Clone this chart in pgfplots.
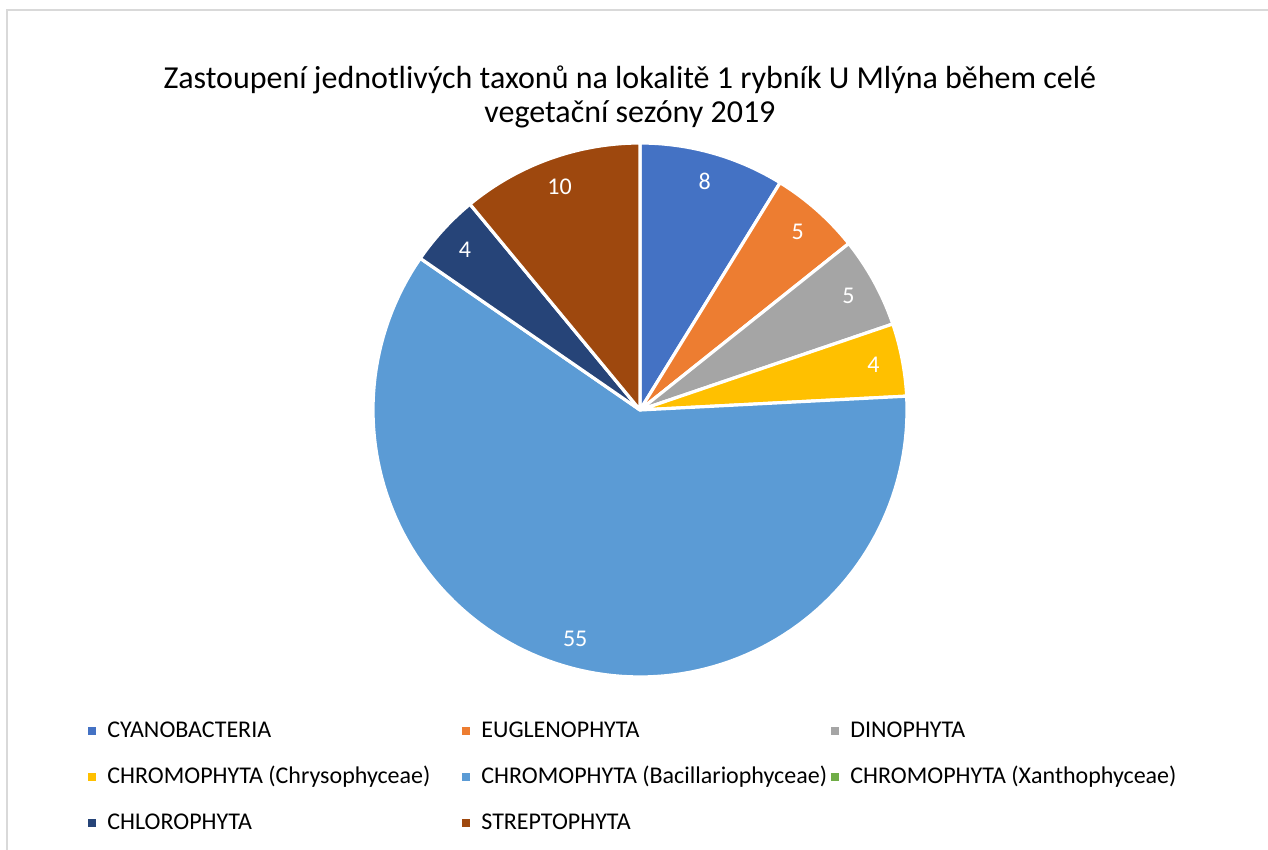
\documentclass[border=0pt]{standalone}
\usepackage{pgfplots}
\pgfplotsset{compat=1.18}
\usepackage{pgfplotstable}
\usepackage{fontspec}
\setmainfont{Carlito}
\definecolor{c0}{HTML}{4472C4}
\definecolor{c1}{HTML}{ED7D31}
\definecolor{c2}{HTML}{A5A5A5}
\definecolor{c3}{HTML}{FFC000}
\definecolor{c4}{HTML}{5B9BD5}
\definecolor{c5}{HTML}{70AD47}
\definecolor{c6}{HTML}{264478}
\definecolor{c7}{HTML}{9E480E}
\definecolor{framecol}{HTML}{D9D9D9}
\pgfplotstableread{
value
8
5
5
4
55
0
4
10
}\pietable
\begin{document}
\begin{tikzpicture}
\def\pietot{0}%
\pgfplotsforeachungrouped \i in {0,...,7}{%
  \pgfplotstablegetelem{\i}{value}\of\pietable
  \pgfmathsetmacro\pietot{\pietot+\pgfplotsretval}}%
\def\piecum{0}%
\pgfplotsforeachungrouped \i in {0,...,7}{%
  \pgfplotstablegetelem{\i}{value}\of\pietable
  \let\pieval\pgfplotsretval
  \pgfmathsetmacro\piehi{90-360*(\piecum/\pietot)}%
  \pgfmathsetmacro\piecum{\piecum+\pieval}%
  \pgfmathsetmacro\pielo{90-360*(\piecum/\pietot)}%
  \pgfmathsetmacro\piemid{(\piehi+\pielo)/2}%
  \expandafter\let\csname piehi\i\endcsname\piehi
  \expandafter\let\csname pielo\i\endcsname\pielo
  \expandafter\let\csname piemid\i\endcsname\piemid
  \expandafter\let\csname pieval\i\endcsname\pieval
}%
\useasboundingbox (0,0) rectangle (634pt,425pt);
\begin{axis}[
  at={(0,0)}, anchor=south west,
  width=634pt, height=425pt, scale only axis,
  xmin=-2.397, xmax=2.352, ymin=-1.648, ymax=1.5356,
  hide axis, clip=false,
  legend columns=3, legend cell align=left,
  legend image code/.code={\fill[#1] (0pt,-2pt) rectangle (4pt,2pt);},
  legend style={at={(axis description cs:0.0694,0.1529)}, anchor=north west,
    draw=none, fill=none, inner sep=0pt, row sep=12pt,
    font=\fontsize{12}{14}\selectfont,
    nodes={inner sep=0pt, text height=8.5pt, text depth=2.5pt},
    /tikz/every odd column/.append style={column sep=5.5pt}},
]
\draw[overlay, color=framecol, line width=1pt] (axis description cs:0.0059,-0.5) |- (axis description cs:1.5,0.98765);
\addlegendimage{fill=c0, draw=none}\addlegendentry{\makebox[177.5pt][l]{CYANOBACTERIA}}
\addlegendimage{fill=c1, draw=none}\addlegendentry{\makebox[175pt][l]{EUGLENOPHYTA}}
\addlegendimage{fill=c2, draw=none}\addlegendentry{DINOPHYTA}
\addlegendimage{fill=c3, draw=none}\addlegendentry{\makebox[177.5pt][l]{CHROMOPHYTA (Chrysophyceae)}}
\addlegendimage{fill=c4, draw=none}\addlegendentry{\makebox[175pt][l]{CHROMOPHYTA (Bacillariophyceae)}}
\addlegendimage{fill=c5, draw=none}\addlegendentry{CHROMOPHYTA (Xanthophyceae)}
\addlegendimage{fill=c6, draw=none}\addlegendentry{\makebox[177.5pt][l]{CHLOROPHYTA}}
\addlegendimage{fill=c7, draw=none}\addlegendentry{\makebox[175pt][l]{STREPTOPHYTA}}
\pgfplotsinvokeforeach{0,1,2,3,4,6,7}{%
  \addplot[forget plot, fill=c#1, draw=white, line width=1.6pt, line join=round,
    domain={\csname pielo#1\endcsname}:{\csname piehi#1\endcsname}, samples=120, variable=\t]
    ({cos(\t)},{sin(\t)}) -- (axis cs:0,0) -- cycle;
  \node[text=white, font=\fontsize{12}{14}\selectfont]
    at (axis cs:{0.89*cos(\csname piemid#1\endcsname)},{0.89*sin(\csname piemid#1\endcsname)})
    {\csname pieval#1\endcsname};
}
\node[anchor=base, font=\fontsize{16}{19}\selectfont] at (axis description cs:0.4968,0.8953)
  {Zastoupení jednotlivých taxonů na lokalitě 1 rybník U Mlýna během celé};
\node[anchor=base, font=\fontsize{16}{19}\selectfont] at (axis description cs:0.4968,0.8553)
  {vegetační sezóny 2019};
\end{axis}
\end{tikzpicture}
\end{document}
